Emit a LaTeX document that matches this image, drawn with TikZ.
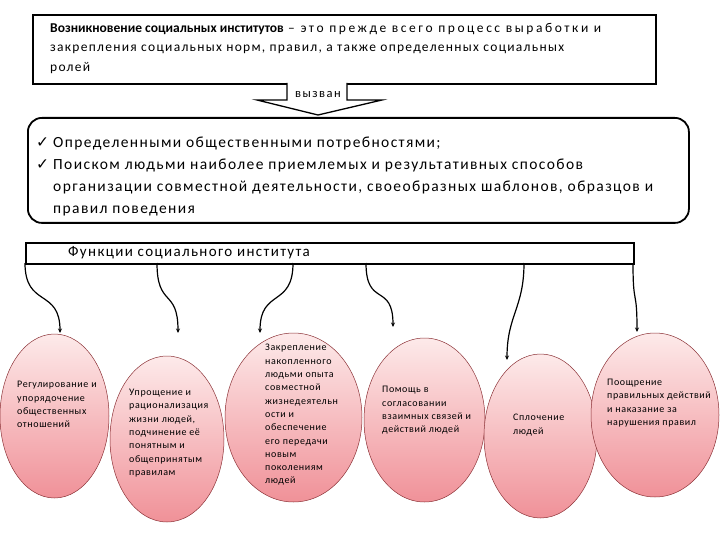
\documentclass[tikz,border=0pt]{standalone}
\usepackage{fontspec}
\setmainfont{Carlito}
\newfontfamily\chkfont{DejaVu Sans}
\usetikzlibrary{shapes.geometric,arrows.meta}
\definecolor{pinktop}{RGB}{253,234,234}
\definecolor{pinkbot}{RGB}{240,145,152}
\definecolor{pinkline}{RGB}{140,50,55}
\newcommand{\chk}{\makebox[17pt][l]{\chkfont ✓}}
\newcommand{\spaced}[1]{\addfontfeatures{LetterSpace=#1}}
\begin{document}
\begin{tikzpicture}[x=1pt,y=-1pt]
\tikzstyle{mybox} = [draw, line width=1.6pt, anchor=north west, inner sep=0pt] % прямоугольная рамка
\tikzstyle{myoval} = [ellipse, draw=pinkline, line width=0.5pt, top color=pinktop, bottom color=pinkbot, inner sep=0pt] % овал функции
\tikzstyle{mytext} = [anchor=west, align=left, inner sep=0pt, font=\fontsize{10}{13.3}\selectfont\spaced{6}] % текст в овале
\tikzstyle{myarrow} = [line width=1.2pt, -{Stealth[length=4.5pt,width=4pt]}] % стрелка к функции
\useasboundingbox (0,0) rectangle (720,540);
% верхний блок
\node[mybox, minimum width=623pt, minimum height=69pt] (origin) at (32,14) {};
\node[anchor=west, align=left, inner sep=0pt, font=\fontsize{13.5}{19.5}\selectfont\spaced{9.5}] (origintext) at (50,48)
  {\textbf{\spaced{0}Возникновение социальных институтов} {\spaced{19}– это прежде всего процесс выработки и}\\
   закрепления социальных норм, правил, а также определенных социальных\\
   ролей};
% стрелка "вызван"
\draw[line width=1.3pt, fill=white] (287,83) -- (287,100) -- (257,100) -- (318,115) -- (382,100) -- (347,100) -- (347,83);
\node[font=\fontsize{12.5}{14}\selectfont\spaced{12}, inner sep=0pt] (caused) at (318,95) {вызван};
% причины
\node[mybox, rounded corners=14pt, line width=1.8pt, minimum width=661pt, minimum height=105pt] (reasons) at (27,117) {};
\node[anchor=west, align=left, inner sep=0pt, font=\fontsize{15.5}{22}\selectfont\spaced{9}] (reasonstext) at (36,176)
  {\chk Определенными общественными потребностями;\\
   \chk Поиском людьми наиболее приемлемых и результативных способов\\
   \hspace*{17pt}организации совместной деятельности, своеобразных шаблонов, образцов и\\
   \hspace*{17pt}правил поведения};
% функции
\node[mybox, line width=1.5pt, minimum width=608pt, minimum height=21pt] (functions) at (25,242) {};
\node[anchor=west, inner sep=0pt, font=\fontsize{15}{16}\selectfont\spaced{9}] (functionstext) at (68,252.5) {Функции социального института};
\node[myoval, minimum width=109pt, minimum height=164pt] (f1) at (54.5,416) {};
\node[myoval, minimum width=114pt, minimum height=166pt] (f2) at (167,439) {};
\node[myoval, minimum width=137pt, minimum height=169pt] (f3) at (293.5,417.5) {};
\node[myoval, minimum width=121pt, minimum height=164pt] (f4) at (424.5,420) {};
\node[myoval, minimum width=113pt, minimum height=164pt] (f5) at (540.5,436) {};
\node[myoval, minimum width=128pt, minimum height=164pt] (f6) at (655,415) {};
\node[mytext] (f1text) at (17,404.5) {Регулирование и\\упорядочение\\общественных\\отношений};
\node[mytext] (f2text) at (129,433) {Упрощение и\\рационализация\\жизни людей,\\подчинение её\\понятным и\\общепринятым\\правилам};
\node[mytext] (f3text) at (265,415) {Закрепление\\накопленного\\людьми опыта\\совместной\\жизнедеятельн\\ости и\\обеспечение\\его передачи\\новым\\поколениям\\людей};
\node[mytext] (f4text) at (382,410.5) {Помощь в\\согласовании\\взаимных связей и\\действий людей};
\node[mytext] (f5text) at (513,425) {Сплочение\\людей};
\node[mytext] (f6text) at (607,403) {Поощрение\\правильных действий\\и наказание за\\нарушения правил};
% стрелки от блока функций
\foreach \i/\sx/\ex/\ey in {1/25/60/333, 2/157/178/333, 3/293/260/333, 4/366/393/327, 5/524/507/360, 6/633/637/332} {
  \coordinate (s\i) at (\sx,263);
  \coordinate (t\i) at (\ex,\ey);
  \draw[myarrow] (s\i) .. controls +(0,45) and +(0,-45) .. (t\i);
}
\end{tikzpicture}
\end{document}
